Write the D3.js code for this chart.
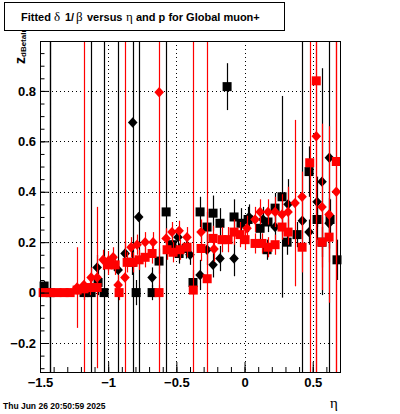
<!DOCTYPE html>
<html>
<head>
<meta charset="utf-8">
<script src="https://cdn.jsdelivr.net/npm/d3@7/dist/d3.min.js"></script>
<style>
  body { margin: 0; background: #fff; }
  svg { display: block; font-family: "Liberation Sans", Arial, sans-serif; }
</style>
</head>
<body>
<script>
// [eta, value, error] for each graph
const blackSquares = [
  [-1.470, 0.026, 0.02], [-1.426, 0.0, 2], [-1.177, 0.0, 0.03], [-1.125, 0.0, 2],
  [-1.074, 0.04, 0.05], [-1.030, 0.0, 2], [-0.825, 0.12, 0.05], [-0.795, 0.0, 0.05],
  [-0.678, 0.0, 0.03], [-0.627, 0.125, 0.05], [-0.575, 0.32, 2], [-0.532, 0.19, 0.04],
  [-0.480, 0.155, 0.04], [-0.428, 0.175, 0.04], [-0.378, 0.04, 0.05], [-0.326, 0.32, 0.06],
  [-0.275, 0.26, 0.06], [-0.231, 0.315, 0.07], [-0.180, 0.275, 0.06], [-0.128, 0.817, 0.093],
  [-0.077, 0.30, 0.07], [-0.026, 0.275, 0.06], [0.026, 0.29, 0.05], [0.114, 0.255, 0.05],
  [0.165, 0.17, 0.04], [0.172, 0.28, 0.04], [0.224, 0.335, 0.06], [0.275, 0.38, 0.4],
  [0.312, 0.20, 0.05], [0.385, 0.23, 0.05], [0.473, 0.48, 0.1], [0.532, 0.29, 0.08],
  [0.568, 0.20, 0.06], [0.627, 0.29, 0.08], [0.678, 0.13, 0.08]
];
const blackDiamonds = [
  [-1.426, 0.0, 2], [-1.081, 0.10, 0.05], [-0.927, 0.09, 2], [-0.876, 0.155, 0.05],
  [-0.820, 0.675, 2], [-0.776, 0.30, 2], [-0.678, 0.06, 0.04], [-0.488, 0.22, 0.04],
  [-0.400, 0.15, 0.04], [-0.326, 0.07, 0.06], [-0.275, 0.17, 0.06], [-0.231, 0.11, 0.05],
  [-0.180, 0.135, 0.05], [-0.077, 0.135, 0.07], [0.033, 0.30, 0.05], [0.136, 0.29, 0.05],
  [0.224, 0.26, 0.05], [0.319, 0.35, 0.1], [0.424, 0.285, 2], [0.473, 0.24, 0.05],
  [0.532, 0.36, 0.1], [0.568, 0.44, 0.45], [0.622, 0.535, 2], [0.620, 0.275, 0.1]
];
const redSquares = [
  [-1.477, 0.0, 0.01], [-1.426, 0.0, 0.01], [-1.375, 0.0, 0.01], [-1.323, 0.0, 0.01],
  [-1.279, 0.0, 0.01], [-1.228, 0.01, 0.02], [-1.177, 0.015, 0.02], [-1.133, 0.02, 0.03],
  [-1.081, 0.02, 0.32], [-1.001, 0.11, 0.04], [-0.949, 0.11, 0.04], [-0.920, 0.0, 0.03],
  [-0.861, 0.12, 0.04], [-0.817, 0.12, 0.04], [-0.773, 0.13, 0.04], [-0.729, 0.14, 0.04],
  [-0.678, 0.155, 0.04], [-0.627, 0.0, 0.03], [-0.568, 0.17, 0.04], [-0.524, 0.16, 0.04],
  [-0.473, 0.17, 0.04], [-0.422, 0.18, 0.04], [-0.376, 0.01, 2], [-0.319, 0.175, 0.05],
  [-0.274, 0.055, 2], [-0.231, 0.215, 0.05], [-0.165, 0.21, 0.05], [-0.121, 0.21, 0.05],
  [-0.077, 0.24, 0.05], [-0.033, 0.23, 0.05], [0.004, 0.21, 0.04], [0.077, 0.195, 0.04],
  [0.128, 0.195, 0.04], [0.172, 0.18, 0.04], [0.224, 0.19, 0.04], [0.275, 0.26, 0.05],
  [0.319, 0.24, 0.05], [0.422, 0.18, 0.1], [0.478, 0.515, 2], [0.526, 0.84, 2],
  [0.568, 0.20, 0.1], [0.620, 0.22, 0.1], [0.673, 0.52, 2]
];
const redDiamonds = [
  [-1.228, 0.02, 0.16], [-1.178, 0.03, 2], [-1.125, 0.06, 0.04], [-1.081, 0.06, 0.04],
  [-1.037, 0.13, 0.04], [-1.001, 0.125, 0.04], [-0.964, 0.14, 0.04], [-0.927, 0.03, 0.04],
  [-0.877, 0.06, 2], [-0.832, 0.18, 0.04], [-0.788, 0.19, 0.04], [-0.729, 0.20, 0.04],
  [-0.671, 0.20, 0.04], [-0.626, 0.795, 2], [-0.575, 0.215, 0.04], [-0.532, 0.24, 0.04],
  [-0.480, 0.245, 0.04], [-0.422, 0.22, 0.04], [-0.319, 0.24, 0.05], [-0.224, 0.173, 0.05],
  [0.018, 0.255, 0.05], [0.077, 0.29, 0.05], [0.114, 0.32, 0.05], [0.172, 0.32, 0.05],
  [0.224, 0.32, 0.06], [0.275, 0.31, 0.08], [0.319, 0.32, 0.1], [0.370, 0.355, 0.33],
  [0.422, 0.38, 0.1], [0.526, 0.62, 2], [0.568, 0.34, 0.33], [0.620, 0.31, 0.35],
  [0.673, 0.40, 2]
];

const xTicks = [-1.5, -1, -0.5, 0, 0.5];
const xTickLabels = ["\u22121.5", "\u22121", "\u22120.5", "0", "0.5"];
const yTicks = [-0.2, 0, 0.2, 0.4, 0.6, 0.8];
const yTickLabels = ["\u22120.2", "0", "0.2", "0.4", "0.6", "0.8"];

const w = 400;
const h = 414;
const fx0 = 40, fx1 = 340, fy0 = 41, fy1 = 372;   // frame

const svg = d3.select("body").append("svg")
  .attr("width", w)
  .attr("height", h);

const x = d3.scaleLinear().domain([-1.5, 0.7]).range([fx0, fx1]);
const y = d3.scaleLinear().domain([-0.315, 0.998]).range([fy1, fy0]);

svg.append("defs").append("clipPath").attr("id", "frameClip")
  .append("rect").attr("x", fx0).attr("y", fy0).attr("width", fx1 - fx0).attr("height", fy1 - fy0);

// dotted grid
const grid = svg.append("g").attr("stroke", "#000").attr("stroke-width", 1).attr("stroke-dasharray", "1,3");
grid.selectAll(".gx").data(xTicks.filter(d => d > -1.5)).enter().append("line")
  .attr("x1", d => Math.round(x(d)) + 0.5).attr("x2", d => Math.round(x(d)) + 0.5)
  .attr("y1", fy0).attr("y2", fy1);
grid.selectAll(".gy").data(yTicks).enter().append("line")
  .attr("y1", d => Math.round(y(d)) + 0.5).attr("y2", d => Math.round(y(d)) + 0.5)
  .attr("x1", fx0).attr("x2", fx1);

// draws one graph: error bars then markers
function drawGraph(data, color, shape) {
  const g = svg.append("g");
  g.append("g").attr("clip-path", "url(#frameClip)")
    .selectAll("line").data(data).enter().append("line")
    .attr("x1", d => Math.round(x(d[0])) + 0.5)
    .attr("x2", d => Math.round(x(d[0])) + 0.5)
    .attr("y1", d => y(d[1] + d[2]))
    .attr("y2", d => y(d[1] - d[2]))
    .attr("stroke", color)
    .attr("stroke-width", 1.2);
  if (shape == "square") {
    g.selectAll("rect").data(data).enter().append("rect")
      .attr("x", d => x(d[0]) - 4.5)
      .attr("y", d => y(d[1]) - 4.5)
      .attr("width", 9)
      .attr("height", 9)
      .attr("fill", color);
  } else {
    g.selectAll("path").data(data).enter().append("path")
      .attr("d", d => {
        const cx = x(d[0]), cy = y(d[1]);
        return "M" + cx + "," + (cy - 5.2) + "L" + (cx + 4.8) + "," + cy +
               "L" + cx + "," + (cy + 5.2) + "L" + (cx - 4.8) + "," + cy + "Z";
      })
      .attr("fill", color);
  }
}

drawGraph(blackSquares, "#000", "square");
drawGraph(blackDiamonds, "#000", "diamond");
drawGraph(redSquares, "#ff0000", "square");
drawGraph(redDiamonds, "#ff0000", "diamond");

// axes with ticks pointing into the frame
const yMinor = d3.range(-0.3, 1.0001, 0.05).filter(v => v >= -0.315 && v <= 0.998);
const xMinor = d3.range(-1.5, 0.7001, 0.1);

const yAxis = svg.append("g").attr("transform", "translate(" + fx0 + ",0)")
  .call(d3.axisLeft(y).tickValues(yTicks).tickSize(-9).tickPadding(4)
    .tickFormat((d, i) => yTickLabels[i]));
svg.append("g").attr("transform", "translate(" + fx0 + ",0)")
  .call(d3.axisLeft(y).tickValues(yMinor).tickSize(-4.5).tickFormat(""));

const xAxis = svg.append("g").attr("transform", "translate(0," + fy1 + ")")
  .call(d3.axisBottom(x).tickValues(xTicks).tickSize(-10).tickPadding(6)
    .tickFormat((d, i) => xTickLabels[i]));
svg.append("g").attr("transform", "translate(0," + fy1 + ")")
  .call(d3.axisBottom(x).tickValues(xMinor).tickSize(-5).tickFormat(""));

svg.selectAll(".domain").remove();
svg.selectAll(".tick line").attr("stroke", "#000").attr("stroke-width", 1);
svg.selectAll(".tick text")
  .attr("font-family", "'Liberation Sans', Arial, sans-serif")
  .attr("font-size", 13)
  .attr("font-weight", "bold")
  .attr("fill", "#000");

// frame
svg.append("rect")
  .attr("x", fx0 + 0.5).attr("y", fy0 + 0.5)
  .attr("width", fx1 - fx0).attr("height", fy1 - fy0)
  .attr("fill", "none").attr("stroke", "#000").attr("stroke-width", 1);

// y title (partly hidden by the title box)
const yTitle = svg.append("text")
  .attr("transform", "translate(25,64) rotate(-90)")
  .attr("font-weight", "bold");
yTitle.append("tspan").attr("font-size", 14).text("z");
yTitle.append("tspan").attr("font-size", 8).attr("dy", 1).text("dBetaInv");

// x title
svg.append("text")
  .attr("x", 330).attr("y", 408)
  .attr("font-family", "'Liberation Serif', serif")
  .attr("font-size", 15)
  .text("\u03b7");

// title box
svg.append("rect")
  .attr("x", 4.5).attr("y", 2.5).attr("width", 280).attr("height", 28)
  .attr("fill", "#fff").attr("stroke", "#000").attr("stroke-width", 1);
const title = svg.append("text").attr("y", 21).attr("font-size", 11);
const titleParts = [
  ["Fitted", 21, "bold"], ["\u03b4", 54, "greek"], ["1/", 65, "bold"], ["\u03b2", 76, "greek"],
  ["versus", 87, "bold"], ["\u03b7", 126, "greek"], ["and p for Global muon+", 136, "bold"]
];
titleParts.forEach(p => {
  const t = title.append("tspan").attr("x", p[1]).text(p[0]);
  if (p[2] == "greek") {
    t.attr("font-family", "'Liberation Serif', serif").attr("font-size", 13);
  } else {
    t.attr("font-weight", "bold");
  }
});

// date stamp
svg.append("text")
  .attr("x", 3).attr("y", 409)
  .attr("font-size", 8.5)
  .attr("font-weight", "bold")
  .text("Thu Jun 26 20:50:59 2025");
</script>
</body>
</html>
